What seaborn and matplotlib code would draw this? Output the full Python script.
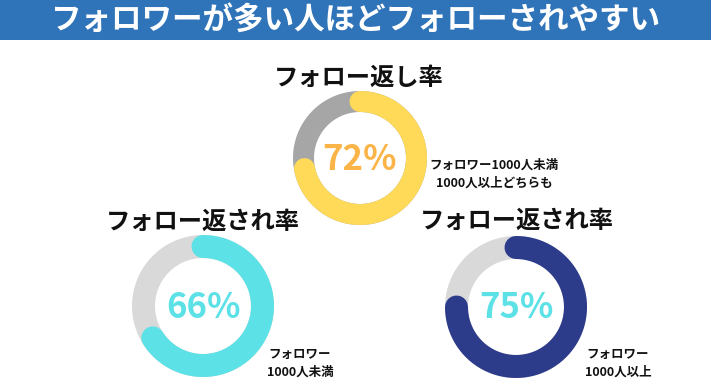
import numpy as np
import matplotlib
matplotlib.use("Agg")
import matplotlib.pyplot as plt
import seaborn as sns

# data
header = "フォロワーが多い人ほどフォローされやすい"
titles = ["フォロー返し率", "フォロー返され率", "フォロー返され率"]
rates = [72, 66, 75]
notes = ["フォロワー1000人未満\n1000人以上どちらも",
         "フォロワー\n1000人未満",
         "フォロワー\n1000人以上"]

# styles / layout (pixel coords)
arc_colors = ["#FFDA59", "#5CE1E6", "#2C3B8A"]
track_colors = ["#A6A6A6", "#D9D9D9", "#D9D9D9"]
pct_colors = ["#FBB448", "#5CE1E6", "#5CE1E6"]
centers = [(360, 158), (203, 306), (516, 307)]
ring_r = [56.5, 59.5, 59.5]
ring_w = [21, 23, 23]
title_pos = [(359, 78), (203, 222), (517, 221)]
note_pos = [(494, 174), (300, 363), (618, 363)]

W, H = 711, 392
sns.set_theme(style="white")
plt.rcParams['font.family'] = ['Noto Sans CJK JP', 'DejaVu Sans']

fig = plt.figure(figsize=(W / 100, H / 100), dpi=100)
fig.patch.set_facecolor("white")

ax = fig.add_axes([0, 0, 1, 1])
ax.set_xlim(0, W)
ax.set_ylim(H, 0)
ax.axis("off")

# header band
ax.axhspan(0, 40, color="#2F73B9", lw=0)
ax.text(W / 2, 20, header, color="white", fontsize=22, fontweight="bold",
        ha="center", va="center")

for i in range(3):
    cx, cy = centers[i]
    r = ring_r[i]
    pax = fig.add_axes([(cx - r) / W, (H - cy - r) / H, 2 * r / W, 2 * r / H],
                       projection="polar")
    pax.set_theta_zero_location("N")
    pax.set_theta_direction(-1)
    pax.set_ylim(0, 1)
    pax.axis("off")
    lw = ring_w[i] * 0.72

    full = np.linspace(0, 2 * np.pi, 361)
    sns.lineplot(x=full, y=np.ones_like(full), ax=pax, color=track_colors[i],
                 linewidth=lw, clip_on=False, sort=False, estimator=None)
    arc = np.linspace(0, rates[i] / 100 * 2 * np.pi, 361)
    sns.lineplot(x=arc, y=np.ones_like(arc), ax=pax, color=arc_colors[i],
                 linewidth=lw, clip_on=False, sort=False, estimator=None,
                 solid_capstyle="round")

    ax.text(cx, cy + 1, f"{rates[i]}%", color=pct_colors[i], fontsize=25,
            fontweight="bold", ha="center", va="center")
    ax.text(title_pos[i][0], title_pos[i][1], titles[i], color="#111111",
            fontsize=17.5, fontweight="bold", ha="center", va="center")
    ax.text(note_pos[i][0], note_pos[i][1], notes[i], color="#111111",
            fontsize=9, fontweight="bold", ha="center", va="center",
            linespacing=1.5)

fig.savefig("out.png", dpi=100)
